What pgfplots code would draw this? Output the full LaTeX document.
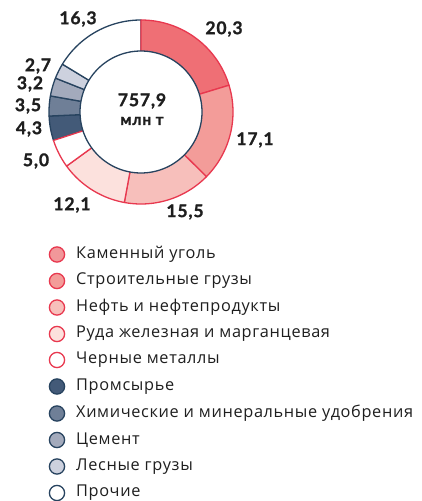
\documentclass[border=0pt]{standalone}
\usepackage{pgfplots}
\pgfplotsset{compat=1.18}
\usepackage{fontspec}
\setmainfont{Lato}
\newfontfamily\legfont{Open Sans}[LetterSpace=4]
\newfontfamily\numfont{Lato}[LetterSpace=5, BoldFeatures={FakeBold=1.2}]
\definecolor{r1}{HTML}{EF6F75}
\definecolor{r2}{HTML}{F39C99}
\definecolor{r3}{HTML}{F7BFBB}
\definecolor{r4}{HTML}{FCE1DD}
\definecolor{rl}{HTML}{F1979A}
\definecolor{rs}{HTML}{E8384F}
\definecolor{b1}{HTML}{435A78}
\definecolor{b2}{HTML}{6F7F97}
\definecolor{b3}{HTML}{A3AABC}
\definecolor{b4}{HTML}{CDD1DE}
\definecolor{bs}{HTML}{27435F}
\definecolor{txt}{HTML}{1E1E1E}
% segment: start%, end% (cumulative shares), fill, stroke
\newcommand{\seg}[4]{%
  \addplot[fill=#3, draw=#4, line width=1.3pt, line join=round, domain=#1:#2, samples=60, variable=\t]
    ({141+92*cos(90-3.6*\t)}, {389+92*sin(90-3.6*\t)}) -- (axis cs:141,389) -- cycle;
}
\newcommand{\leg}[4]{% y, fill, stroke, text
  \addplot[only marks, mark=*, mark size=7.6pt, mark options={fill=#2, draw=#3, line width=1.3pt}] coordinates {(57,#1)};
  \node[anchor=west, font=\legfont\fontsize{16.3}{19}\selectfont, text=txt, inner sep=0pt] at (axis cs:76,#1) {#4};
}
\begin{document}
\begin{tikzpicture}
\begin{axis}[at={(0,0)}, anchor=south west,
  width=421pt, height=501pt, scale only axis,
  xmin=0, xmax=421, ymin=0, ymax=501,
  hide axis, clip=false]
% blue group first (shares: 4.3, 3.5, 3.2, 2.7, 16.3)
\seg{70.0}{74.3}{b1}{bs}
\seg{74.3}{77.8}{b2}{bs}
\seg{77.8}{81.0}{b3}{bs}
\seg{81.0}{83.7}{b4}{bs}
\seg{83.7}{100}{white}{bs}
% red group (shares: 20.3, 17.1, 15.5, 12.1, 5.0)
\seg{0}{20.3}{r1}{rs}
\seg{20.3}{37.4}{r2}{rs}
\seg{37.4}{52.9}{r3}{rs}
\seg{52.9}{65.0}{r4}{rs}
\seg{65.0}{70.0}{white}{rs}
% inner hole
\addplot[fill=white, draw=bs, line width=1.3pt, domain=0:360, samples=120, variable=\t]
  ({141+61*cos(\t)}, {389+61*sin(\t)}) -- cycle;
% centre text
\node[font=\numfont\fontsize{17.5}{20}\bfseries, text=txt] at (axis cs:142,400) {757,9};
\node[font=\numfont\fontsize{15.5}{18}\bfseries, text=txt] at (axis cs:142,380) {млн т};
% value labels
\begin{scope}[every node/.style={font=\numfont\fontsize{17.5}{20}\bfseries, text=txt, inner sep=0pt}]
\node at (axis cs:224,472) {20,3};
\node at (axis cs:255,361) {17,1};
\node at (axis cs:185,289) {15,5};
\node at (axis cs:72,296) {12,1};
\node at (axis cs:36,340) {5,0};
\node at (axis cs:29,372) {4,3};
\node at (axis cs:28,395) {3,5};
\node at (axis cs:30,417) {3,2};
\node at (axis cs:38,435) {2,7};
\node at (axis cs:78,482) {16,3};
\end{scope}
% legend
\leg{246.5}{rl}{rs}{Каменный уголь}
\leg{220}{r2}{rs}{Строительные грузы}
\leg{193.5}{r3}{rs}{Нефть и нефтепродукты}
\leg{167}{r4}{rs}{Руда железная и марганцевая}
\leg{141}{white}{rs}{Черные металлы}
\leg{114.5}{b1}{bs}{Промсырье}
\leg{87.5}{b2}{bs}{Химические и минеральные удобрения}
\leg{61}{b3}{bs}{Цемент}
\leg{34.5}{b4}{bs}{Лесные грузы}
\leg{8}{white}{bs}{Прочие}
\end{axis}
\pgfresetboundingbox
\useasboundingbox (0,0) rectangle (421pt,501pt);
\end{tikzpicture}
\end{document}
